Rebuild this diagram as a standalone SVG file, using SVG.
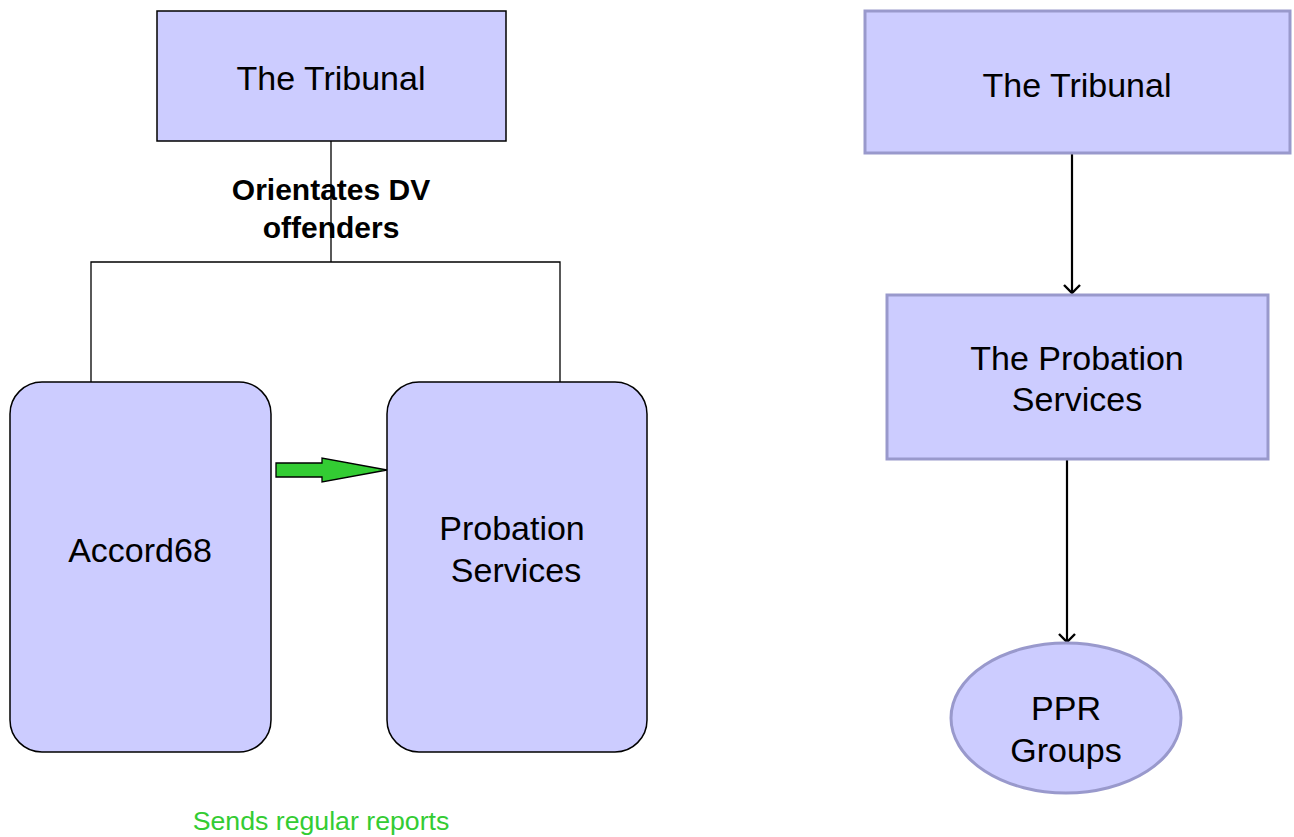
<svg xmlns="http://www.w3.org/2000/svg" width="1294" height="837" viewBox="0 0 1294 837">
<defs>
<style>
.t{font-family:"Liberation Sans",Arial,sans-serif;font-size:34px;fill:#000;text-anchor:middle}
.lb{fill:#ccccff;stroke:#000;stroke-width:1.5}
.rb{fill:#ccccff;stroke:#9999cc;stroke-width:3}
.c{fill:none;stroke:#000;stroke-width:1.3}
.ca{fill:none;stroke:#000;stroke-width:2.2}
.b{font-family:"Liberation Sans",Arial,sans-serif;font-size:30px;font-weight:bold;text-anchor:middle}
</style>
<marker id="v" markerWidth="20" markerHeight="20" refX="10" refY="10" orient="auto" markerUnits="userSpaceOnUse">
<path d="M2,2 L10,10 L2,18" fill="none" stroke="#000" stroke-width="2.4"/>
</marker>
</defs>
<rect width="1294" height="837" fill="#fff"/>
<g id="connectors">
<path class="c" d="M331,141 V262 M91,382 V262 H560 V382"/>
<path d="M276,463 H322 V458 L387,470 L322,482 V477 H276 Z" fill="#33cc33" stroke="#000" stroke-width="1.3"/>
<line class="ca" x1="1072" y1="153" x2="1072" y2="293" marker-end="url(#v)"/>
<line class="ca" x1="1067" y1="459" x2="1067" y2="642" marker-end="url(#v)"/>
</g>
<g id="label-orientates">
<text class="b" x="331" y="200">Orientates DV</text>
<text class="b" x="331" y="238">offenders</text>
</g>
<g id="tribunal-left">
<rect class="lb" x="157" y="11" width="349" height="130"/>
<text class="t" x="331" y="90">The Tribunal</text>
</g>
<g id="accord68">
<rect class="lb" x="10" y="382" width="261" height="370" rx="32"/>
<text class="t" x="140" y="562">Accord68</text>
</g>
<g id="probation-left">
<rect class="lb" x="387" y="382" width="260" height="370" rx="32"/>
<text class="t" x="512" y="540">Probation</text>
<text class="t" x="516" y="582">Services</text>
</g>
<g id="label-sends">
<text style="font-family:'Liberation Sans',Arial,sans-serif;font-size:26.7px;fill:#33cc33;text-anchor:middle" x="321" y="830">Sends regular reports</text>
</g>
<g id="tribunal-right">
<rect class="rb" x="865" y="11" width="425" height="142"/>
<text class="t" x="1077" y="97">The Tribunal</text>
</g>
<g id="probation-right">
<rect class="rb" x="887" y="295" width="381" height="164"/>
<text class="t" x="1077" y="370">The Probation</text>
<text class="t" x="1077" y="411">Services</text>
</g>
<g id="ppr-groups">
<ellipse class="rb" cx="1066" cy="718" rx="115" ry="75"/>
<text class="t" x="1066" y="720">PPR</text>
<text class="t" x="1066" y="762">Groups</text>
</g>
</svg>
